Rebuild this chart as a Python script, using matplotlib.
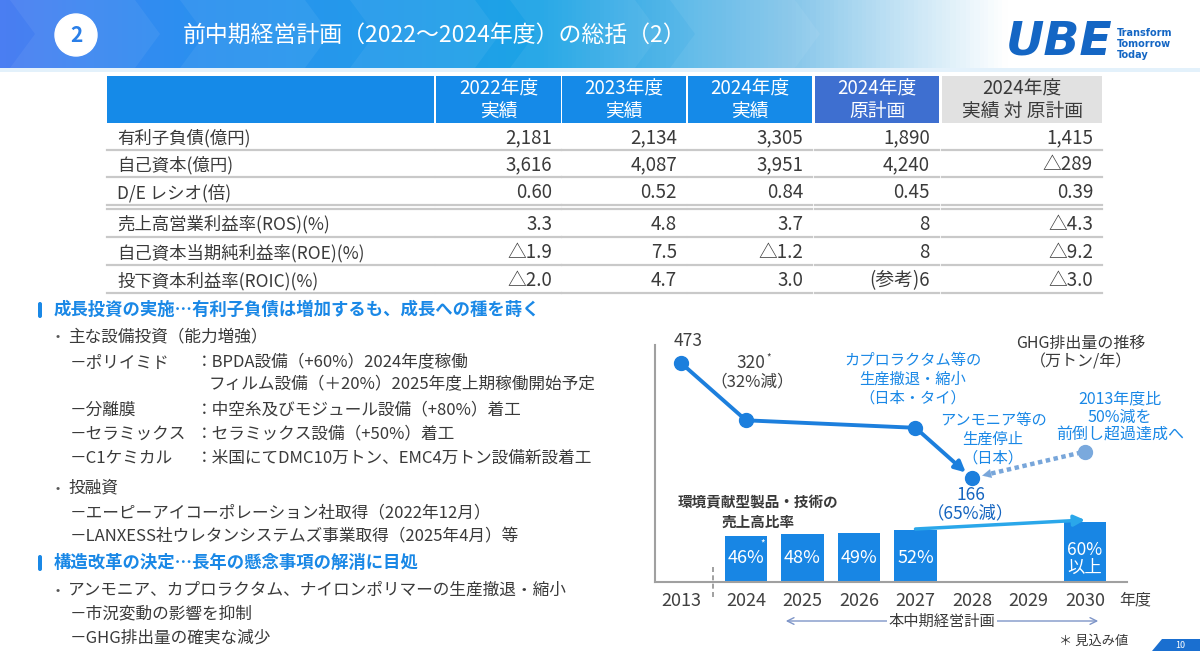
import numpy as np
import matplotlib.pyplot as plt
from matplotlib.patches import Rectangle, Circle, Polygon, FancyBboxPatch
from matplotlib.colors import LinearSegmentedColormap

plt.rcParams['font.family'] = ['Noto Sans CJK JP', 'DejaVu Sans']

# ---- data -------------------------------------------------------------
title = '前中期経営計画（2022～2024年度）の総括（2）'
section_no = '2'

col_heads = ['2022年度\n実績', '2023年度\n実績', '2024年度\n実績', '2024年度\n原計画', '2024年度\n実績 対 原計画']
row_labels = ['有利子負債(億円)', '自己資本(億円)', 'D/E レシオ(倍)',
              '売上高営業利益率(ROS)(%)', '自己資本当期純利益率(ROE)(%)', '投下資本利益率(ROIC)(%)']
fy2022 = ['2,181', '3,616', '0.60', '3.3', '△1.9', '△2.0']
fy2023 = ['2,134', '4,087', '0.52', '4.8', '7.5', '4.7']
fy2024 = ['3,305', '3,951', '0.84', '3.7', '△1.2', '3.0']
plan2024 = ['1,890', '4,240', '0.45', '8', '8', '(参考)6']
diff2024 = ['1,415', '△289', '0.39', '△4.3', '△9.2', '△3.0']

heading1 = '成長投資の実施…有利子負債は増加するも、成長への種を蒔く'
heading2 = '構造改革の決定…長年の懸念事項の解消に目処'
bullets1 = ['主な設備投資（能力増強）', '投融資']
capex_items = ['－ポリイミド', '－分離膜', '－セラミックス', '－C1ケミカル']
capex_notes = ['：BPDA設備（+60%）2024年度稼働', '：中空糸及びモジュール設備（+80%）着工',
               '：セラミックス設備（+50%）着工', '：米国にてDMC10万トン、EMC4万トン設備新設着工']
capex_extra = 'フィルム設備（＋20%）2025年度上期稼働開始予定'
invest_items = ['－エーピーアイコーポレーション社取得（2022年12月）',
                '－LANXESS社ウレタンシステムズ事業取得（2025年4月）等']
bullets2 = ['アンモニア、カプロラクタム、ナイロンポリマーの生産撤退・縮小']
reform_items = ['－市況変動の影響を抑制', '－GHG排出量の確実な減少']

years = ['2013', '2024', '2025', '2026', '2027', '2028', '2029', '2030']
ghg_years = ['2013', '2024', '2027', '2028']
ghg_vals = [473, 320, 300, 166]
ghg_target = 236.5          # 2013年度比50%減 (2030)
ratio_years = ['2024', '2025', '2026', '2027', '2030']
ratio_vals = [46, 48, 49, 52, 60]

# ---- colours ------------------------------------------------------------
BLUE = '#1a88e6'
DARK = '#3a3a3a'
LINE = '#1c7fdd'

fig = plt.figure(figsize=(12, 6.51), dpi=100)
bg = fig.add_axes([0, 0, 1, 1])
bg.set_xlim(0, 1200)
bg.set_ylim(651, 0)
bg.axis('off')

# header banner
cmap = LinearSegmentedColormap.from_list('hdr', [(0, '#4a7ef2'), (0.15, '#2c8ff0'), (0.45, '#1ca4e6'),
                                                 (0.66, '#86c6ea'), (0.84, '#ffffff'), (1, '#ffffff')])
bg.imshow(np.linspace(0, 1, 600)[None, :], extent=(0, 1200, 68, 0), aspect='auto', cmap=cmap, zorder=0)
for x0 in [160, 330, 500, 660, 820]:
    bg.add_patch(Polygon([(x0 - 150, 0), (x0 - 25, 0), (x0, 34), (x0 - 25, 68), (x0 - 150, 68), (x0 - 125, 34)],
                         closed=True, color='white', alpha=0.06, lw=0, zorder=1))
bg.add_patch(Rectangle((0, 68), 1200, 4, color='#e3f1fb', lw=0))
bg.add_patch(Circle((76, 35), 21, color='white', zorder=2))
bg.text(76, 36, section_no, ha='center', va='center', fontsize=15, fontweight='bold', color='#2a7fe8', zorder=3)
bg.text(183, 35, title, ha='left', va='center', fontsize=16.5, color='white', zorder=3)
bg.text(1006, 42, 'UBE', ha='left', va='center', fontsize=34, fontweight='bold', style='italic',
        family='DejaVu Sans', color='#1466c4')
for i, w in enumerate(['Transform', 'Tomorrow', 'Today']):
    bg.text(1117, 33 + i * 11, w, ha='left', va='center', fontsize=7, fontweight='bold',
            family='DejaVu Sans', color='#1466c4')

# ---- table ----------------------------------------------------------------
col_l = [436, 562, 688, 815, 942]
col_r = [561, 686, 812, 939, 1102]
head_c = ['#158ae8', '#158ae8', '#158ae8', '#3e6fd0', '#e1e1e1']
bg.add_patch(Rectangle((107, 76), 327, 47, color='#158ae8', lw=0))
for j, h in enumerate(col_heads):
    bg.add_patch(Rectangle((col_l[j], 76), col_r[j] - col_l[j], 47, color=head_c[j], lw=0))
    bg.text((col_l[j] + col_r[j]) / 2, 100, h, ha='center', va='center', fontsize=13.5, linespacing=1.1,
            color='white' if j < 4 else DARK)

row_y = [138, 165, 193, 224, 253, 281]
line_y = [150, 177, 205, 237, 265, 293]
seg = [(107, 434)] + list(zip(col_l, col_r))
for ly in line_y:
    for a, b in seg:
        bg.plot([a, b], [ly, ly], color='#c9c9c9', lw=1.6)
for a, b in seg:
    bg.plot([a, b], [208.5, 208.5], color='#c9c9c9', lw=1.6)

cols = [fy2022, fy2023, fy2024, plan2024, diff2024]
for i, lab in enumerate(row_labels):
    bg.text(117, row_y[i], lab, ha='left', va='center', fontsize=12.5, color=DARK)
    for j, c in enumerate(cols):
        bg.text(col_r[j] - 9, row_y[i], c[i], ha='right', va='center', fontsize=13.5, color=DARK)

# ---- left text --------------------------------------------------------------
FS = 12
for hy, htxt in [(310, heading1), (563, heading2)]:
    bg.add_patch(FancyBboxPatch((38, hy - 8), 4, 16, boxstyle='round,pad=0,rounding_size=2', color=BLUE, lw=0))
    bg.text(54, hy, htxt, ha='left', va='center', fontsize=12.5, fontweight='bold', color=BLUE)

for by, btxt in [(337, bullets1[0]), (488, bullets1[1]), (590, bullets2[0])]:
    bg.text(55, by, '•', ha='left', va='center', fontsize=9, color='#555555')
    bg.text(68, by, btxt, ha='left', va='center', fontsize=FS, color=DARK)

capex_y = [363, 410, 434, 458]
for k in range(4):
    bg.text(70, capex_y[k], capex_items[k], ha='left', va='center', fontsize=FS, color=DARK)
    bg.text(196, capex_y[k], capex_notes[k], ha='left', va='center', fontsize=FS, color=DARK)
bg.text(209, 385, capex_extra, ha='left', va='center', fontsize=FS, color=DARK)
for yy, t in zip([513, 537], invest_items):
    bg.text(70, yy, t, ha='left', va='center', fontsize=FS, color=DARK)
for yy, t in zip([614, 638], reform_items):
    bg.text(70, yy, t, ha='left', va='center', fontsize=FS, color=DARK)

# ---- chart --------------------------------------------------------------------
x0px, x1px, ytop, ybase = 655, 1127, 345, 582
step = 56.5
ax = fig.add_axes([x0px / 1200, 1 - ybase / 651, (x1px - x0px) / 1200, (ybase - ytop) / 651])
ax.patch.set_visible(False)
ax.set_xlim(1 - (746 - x0px) / step, 1 + (x1px - 746) / step)
ax.set_ylim(0, ybase - ytop)

xpos = {y: (i if i > 0 else -0.15) for i, y in enumerate(years)}

bx = [xpos[y] for y in ratio_years]
ax.bar(bx, ratio_vals, width=0.76, color='#1886e4', zorder=2)
for x, v in zip(bx, ratio_vals):
    if v == ratio_vals[-1]:
        ax.text(x, 23, f'{v}%\n以上', ha='center', va='center', fontsize=12.5, color='white',
                linespacing=1.05, zorder=3)
    else:
        ax.text(x, 24, f'{v}%', ha='center', va='center', fontsize=13, color='white', zorder=3)
ax.text(bx[0] + 0.3, ratio_vals[0] - 7, '*', ha='center', va='center', fontsize=7, color='white', zorder=3)
ax.annotate('', xy=(bx[-1], ratio_vals[-1] + 2), xytext=(bx[3], ratio_vals[3] + 1),
            arrowprops=dict(arrowstyle='-|>', color='#2aa7ea', lw=2.5, mutation_scale=16,
                            shrinkA=0, shrinkB=0), zorder=4)

for s in ['top', 'right']:
    ax.spines[s].set_visible(False)
for s in ['left', 'bottom']:
    ax.spines[s].set_color('#a0a0a0')
    ax.spines[s].set_linewidth(1.5)
ax.set_yticks([])
ax.set_xticks([xpos[y] for y in years])
ax.set_xticklabels(years, fontsize=13, color='#404040')
ax.tick_params(axis='x', length=0, pad=7)

# GHG line (separate value scale)
k = (478 - 363) / (ghg_vals[0] - ghg_vals[-1])
ax2 = ax.twinx()
ax2.set_ylim(ghg_vals[-1] - (ybase - 478) / k, ghg_vals[0] + (363 - ytop) / k)
ax2.axis('off')
gx = [xpos[y] for y in ghg_years]
ax2.plot(gx[:3], ghg_vals[:3], color=LINE, lw=2.8, marker='o', ms=10, zorder=5)
ax2.annotate('', xy=(gx[3], ghg_vals[3]), xytext=(gx[2], ghg_vals[2]),
             arrowprops=dict(arrowstyle='-|>', color=LINE, lw=2.8, mutation_scale=16, shrinkA=0, shrinkB=6))
ax2.plot(gx[3], ghg_vals[3], 'o', color=LINE, ms=10, zorder=5)

# dotted arrow from 2030 target back to 2028
tx = xpos['2030']
dx, dy = tx - gx[3], ghg_target - ghg_vals[3]
ax2.plot([gx[3] + 0.17 * dx, tx], [ghg_vals[3] + 0.17 * dy, ghg_target], color='#78a6da', lw=3.2,
         linestyle=(0, (1, 0.8)), zorder=4)
ax2.annotate('', xy=(gx[3] + 0.09 * dx, ghg_vals[3] + 0.09 * dy),
             xytext=(gx[3] + 0.2 * dx, ghg_vals[3] + 0.2 * dy),
             arrowprops=dict(arrowstyle='-|>', color='#78a6da', lw=0.1, mutation_scale=16, shrinkA=0, shrinkB=0))
ax2.plot(tx, ghg_target, 'o', color='#7aa9dd', ms=10, zorder=5)

# chart annotations
bg.text(688, 341, f'{ghg_vals[0]}', ha='center', va='center', fontsize=12.5, color='#404040')
bg.text(751, 363, f'{ghg_vals[1]}', ha='center', va='center', fontsize=12.5, color='#404040')
bg.text(766, 358, '*', ha='left', va='center', fontsize=7, color='#404040')
bg.text(752, 382, '（32%減）', ha='center', va='center', fontsize=12, color='#404040')
bg.text(913, 379, 'カプロラクタム等の\n生産撤退・縮小\n（日本・タイ）', ha='center', va='center',
        fontsize=11, color=BLUE, linespacing=1.15)
bg.text(993, 439, 'アンモニア等の\n生産停止\n（日本）', ha='center', va='center',
        fontsize=11, color=BLUE, linespacing=1.15)
bg.text(1081, 353, 'GHG排出量の推移\n（万トン/年）', ha='center', va='center',
        fontsize=11.5, color=DARK, linespacing=1.1)
bg.text(1120, 417, '2013年度比\n50%減を\n前倒し超過達成へ', ha='center', va='center',
        fontsize=11.5, color=BLUE, linespacing=1.05)
bg.text(971, 504, f'{ghg_vals[3]}\n（65%減）', ha='center', va='center',
        fontsize=12.5, color='#1565c0', linespacing=1.05)
bg.text(758, 512, '環境貢献型製品・技術の\n売上高比率', ha='center', va='center',
        fontsize=10.5, fontweight='bold', color=DARK, linespacing=1.2)
bg.text(1119, 600, '年度', ha='left', va='center', fontsize=11.5, color='#404040')
bg.plot([713, 713], [567, 598], color='#909090', lw=1.2, linestyle=(0, (3, 2)))

bg.annotate('', xy=(783, 621), xytext=(1101, 621),
            arrowprops=dict(arrowstyle='<->', color='#7e95c8', lw=1.0, mutation_scale=12))
bg.text(942, 621, '本中期経営計画', ha='center', va='center', fontsize=11, color=DARK,
        bbox=dict(facecolor='white', edgecolor='none', pad=1))
bg.text(1094, 641, '＊ 見込み値', ha='center', va='center', fontsize=9.5, color=DARK)

bg.add_patch(Polygon([(1152, 651), (1162, 639), (1200, 639), (1200, 651)], closed=True, color='#1a6fd0', lw=0))
bg.text(1180, 645.5, '10', ha='center', va='center', fontsize=6.5, color='white')

fig.savefig('out.png', dpi=100)
